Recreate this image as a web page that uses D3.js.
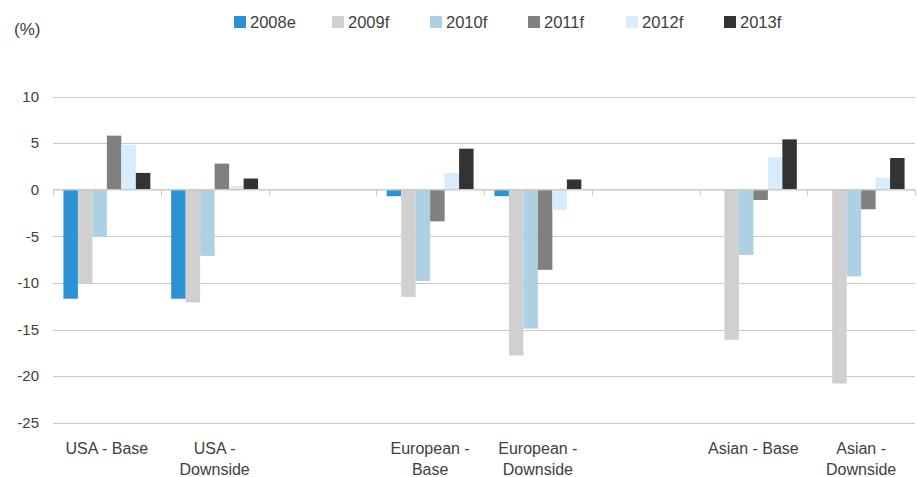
<!DOCTYPE html>
<html>
<head>
<meta charset="utf-8">
<script src="https://cdn.jsdelivr.net/npm/d3@7"></script>
<style>
  html, body { margin: 0; padding: 0; background: #fff; }
  svg { display: block; font-family: "Liberation Sans", Arial, sans-serif; }
</style>
</head>
<body>
<svg id="chart" width="917" height="477"></svg>
<script>
// Scenario groups (empty strings are spacer slots between regions)
const categories = ["USA - Base", "USA -\nDownside", "", "European -\nBase", "European -\nDownside", "", "Asian - Base", "Asian -\nDownside"];
const seriesNames = ["2008e", "2009f", "2010f", "2011f", "2012f", "2013f"];
const seriesColors = ["#2b93d4", "#d0d0d0", "#aed0e3", "#808080", "#d9ecfb", "#333333"];

// Growth (%) per scenario, one array per forecast year
const v2008e = [-11.7, -11.7, null, -0.7, -0.7, null, null, null];
const v2009f = [-10.0, -12.1, null, -11.5, -17.8, null, -16.1, -20.8];
const v2010f = [-5.0, -7.1, null, -9.8, -14.9, null, -7.0, -9.3];
const v2011f = [5.8, 2.8, null, -3.4, -8.6, null, -1.1, -2.1];
const v2012f = [4.8, 0.4, null, 1.8, -2.2, null, 3.5, 1.3];
const v2013f = [1.8, 1.2, null, 4.4, 1.1, null, 5.4, 3.4];
const seriesValues = [v2008e, v2009f, v2010f, v2011f, v2012f, v2013f];

const yTicks = [10, 5, 0, -5, -10, -15, -20, -25];

const svg = d3.select("#chart");
const textColor = "#404040";
const gridColor = "#cacaca";

const x = d3.scaleBand().domain(d3.range(categories.length)).range([53, 915]).padding(0);
const xi = d3.scaleBand().domain(seriesNames).range([0, x.bandwidth()]).paddingInner(0).paddingOuter(0.72);
const y = d3.scaleLinear().domain([-25, 10]).range([422.7, 96.5]);

// Horizontal gridlines
svg.append("g")
  .selectAll("line")
  .data(yTicks.filter(t => t !== 0))
  .join("line")
  .attr("x1", 53).attr("x2", 915)
  .attr("y1", d => Math.round(y(d)) + 0.5).attr("y2", d => Math.round(y(d)) + 0.5)
  .attr("stroke", gridColor).attr("stroke-width", 1);

// Y axis labels (plain hyphen for negatives)
const yAxis = d3.axisLeft(y).tickValues(yTicks).tickSize(0).tickPadding(0).tickFormat(d => String(d));
const gy = svg.append("g").attr("transform", "translate(39,0)").call(yAxis);
gy.select(".domain").remove();
gy.selectAll("text").attr("fill", textColor).style("font-size", "15px")
  .style("font-family", "'Liberation Sans', Arial, sans-serif");

// Bars
const groups = svg.append("g")
  .selectAll("g")
  .data(seriesNames.map((s, i) => ({ name: s, color: seriesColors[i], values: seriesValues[i] })))
  .join("g")
  .attr("fill", d => d.color);

groups.selectAll("rect")
  .data(d => d.values.map((v, j) => ({ name: d.name, v, j })).filter(e => e.v !== null))
  .join("rect")
  .attr("x", d => x(d.j) + xi(d.name))
  .attr("width", xi.bandwidth())
  .attr("y", d => y(Math.max(0, d.v)))
  .attr("height", d => Math.abs(y(d.v) - y(0)));

// Zero axis with category tick marks
const y0 = y(0);
svg.append("line")
  .attr("x1", 53).attr("x2", 915).attr("y1", y0).attr("y2", y0)
  .attr("stroke", gridColor).attr("stroke-width", 1.5);
svg.append("g")
  .selectAll("line")
  .data(d3.range(categories.length + 1))
  .join("line")
  .attr("x1", i => Math.round(53 + i * x.step()) + 0.5)
  .attr("x2", i => Math.round(53 + i * x.step()) + 0.5)
  .attr("y1", y0).attr("y2", y0 + 6)
  .attr("stroke", gridColor).attr("stroke-width", 1);

// Category labels
const catG = svg.append("g")
  .selectAll("text")
  .data(categories.map((c, i) => ({ c, i })))
  .join("text")
  .attr("x", d => x(d.i) + x.bandwidth() / 2)
  .attr("y", 454)
  .attr("text-anchor", "middle")
  .attr("fill", textColor)
  .style("font-size", "16px");
catG.selectAll("tspan")
  .data(d => d.c.split("\n").map((line, k) => ({ line, k, cx: x(d.i) + x.bandwidth() / 2 })))
  .join("tspan")
  .attr("x", d => d.cx)
  .attr("dy", d => d.k === 0 ? 0 : 21)
  .text(d => d.line);

// Unit label
svg.append("text").attr("x", 14).attr("y", 35).attr("fill", textColor)
  .style("font-size", "17px").text("(%)");

// Legend
const legend = svg.append("g")
  .selectAll("g")
  .data(seriesNames.map((s, i) => ({ s, i })))
  .join("g")
  .attr("transform", d => `translate(${234 + d.i * 98},16)`);
legend.append("rect").attr("width", 12).attr("height", 12).attr("fill", d => seriesColors[d.i]);
legend.append("text").attr("x", 16).attr("y", 11.5).attr("fill", textColor)
  .style("font-size", "16.5px").text(d => d.s);
</script>
</body>
</html>
